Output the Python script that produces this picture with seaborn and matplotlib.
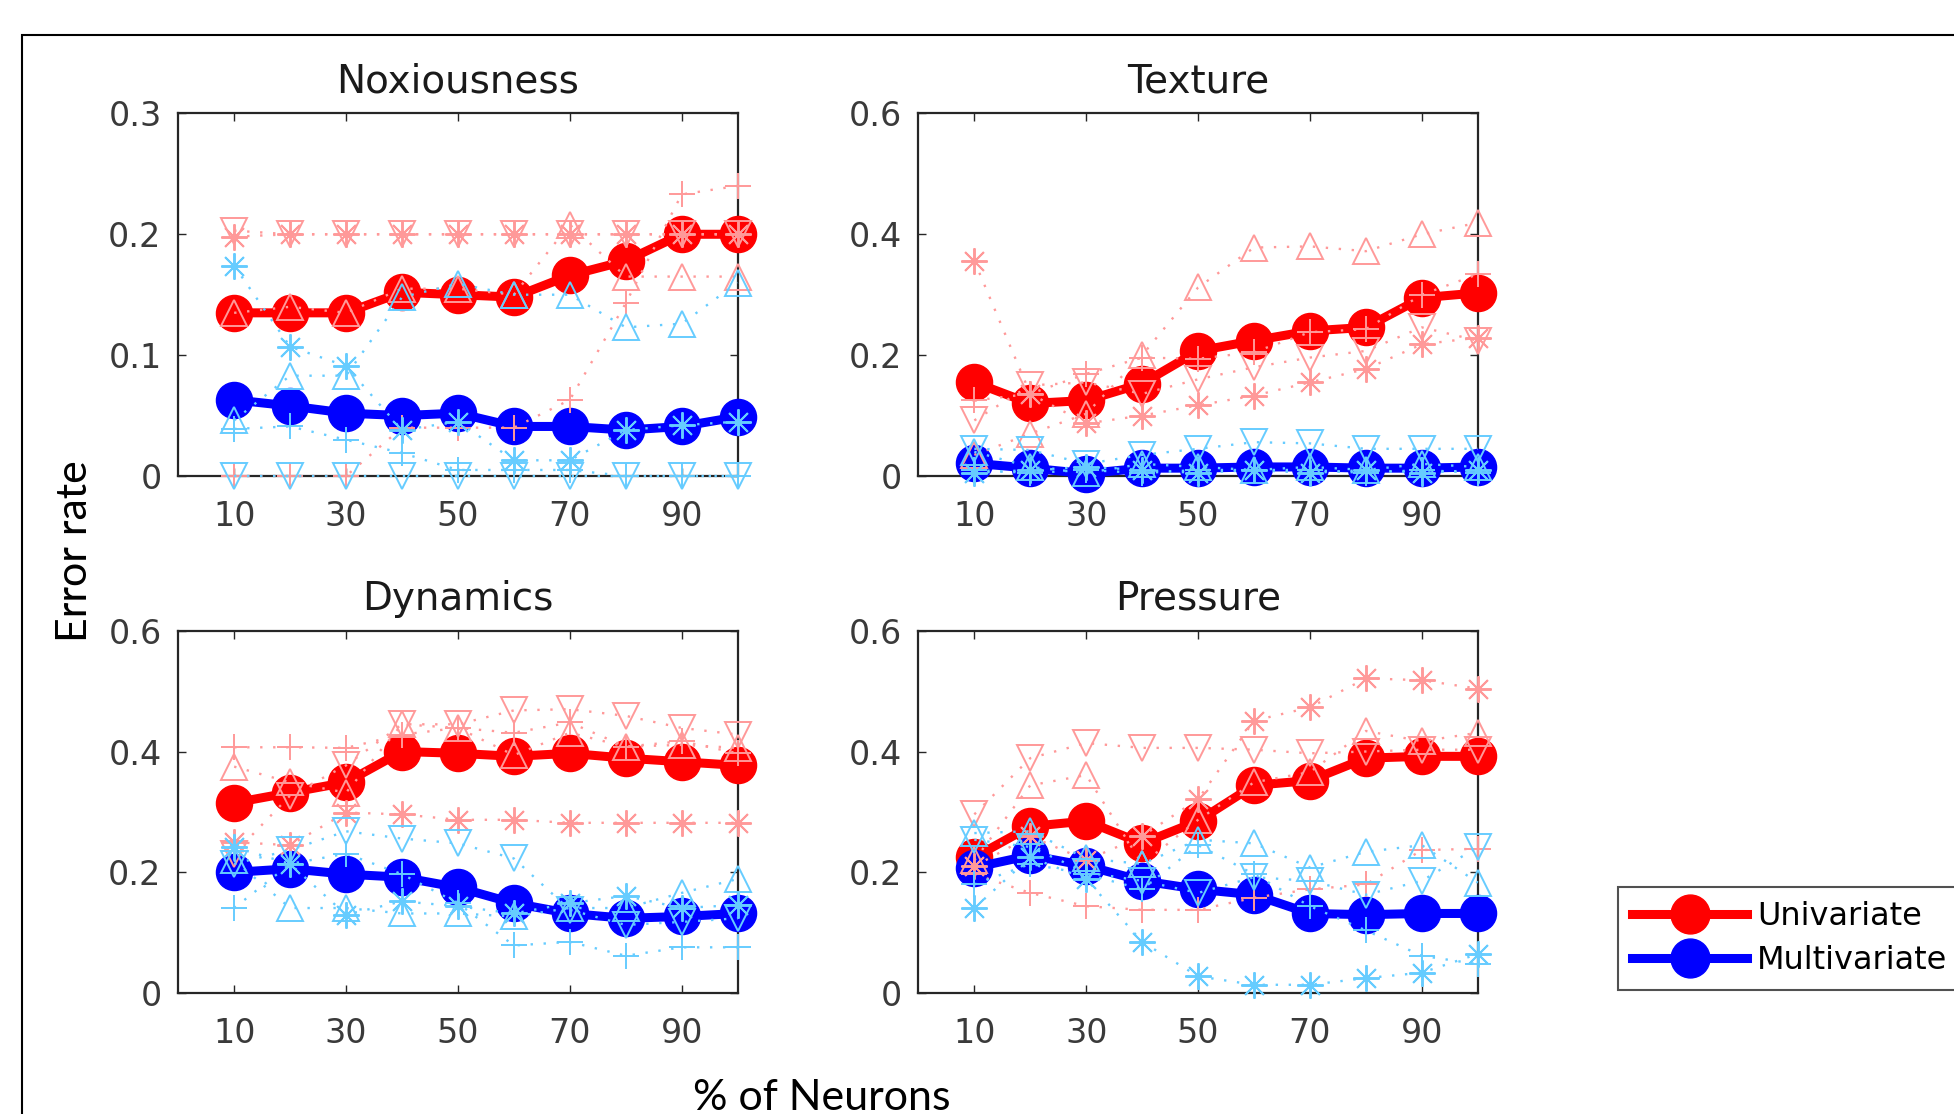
import matplotlib
matplotlib.use("Agg")
import matplotlib.pyplot as plt
from matplotlib.patches import Rectangle
import seaborn as sns

TICK_SIZE  = 24
TITLE_SIZE = 28
LABEL_SIZE = 31
LEGEND_SIZE = 23

RED, BLUE = "#ff0000", "#0000ff"
LIGHT_RED, LIGHT_BLUE = "#ff9999", "#66ccff"

pct = [10, 20, 30, 40, 50, 60, 70, 80, 90, 100]

# Noxiousness
nox_uni        = [0.135, 0.135, 0.135, 0.152, 0.150, 0.148, 0.166, 0.178, 0.200, 0.200]
nox_multi      = [0.063, 0.058, 0.052, 0.050, 0.052, 0.041, 0.041, 0.038, 0.041, 0.049]
nox_uni_plus   = [0.000, 0.000, 0.000, 0.040, 0.040, 0.040, 0.063, 0.143, 0.233, 0.240]
nox_uni_star   = [0.198, 0.200, 0.200, 0.200, 0.200, 0.200, 0.200, 0.200, 0.200, 0.200]
nox_uni_up     = [0.135, 0.140, 0.135, 0.155, 0.155, 0.150, 0.208, 0.165, 0.165, 0.165]
nox_uni_down   = [0.203, 0.200, 0.200, 0.200, 0.200, 0.200, 0.200, 0.200, 0.200, 0.200]
nox_multi_plus = [0.039, 0.041, 0.030, 0.019, 0.005, 0.005, 0.005, 0.000, 0.000, 0.000]
nox_multi_star = [0.174, 0.107, 0.091, 0.038, 0.045, 0.013, 0.013, 0.038, 0.042, 0.045]
nox_multi_up   = [0.046, 0.083, 0.083, 0.148, 0.159, 0.150, 0.150, 0.123, 0.126, 0.160]
nox_multi_down = [0.000, 0.000, 0.000, 0.000, 0.000, 0.000, 0.000, 0.000, 0.000, 0.000]

# Texture
tex_uni        = [0.155, 0.120, 0.125, 0.153, 0.207, 0.224, 0.240, 0.246, 0.295, 0.303]
tex_multi      = [0.021, 0.013, 0.004, 0.013, 0.013, 0.015, 0.015, 0.013, 0.013, 0.015]
tex_uni_plus   = [0.125, 0.136, 0.169, 0.196, 0.194, 0.205, 0.238, 0.243, 0.300, 0.334]
tex_uni_star   = [0.356, 0.136, 0.087, 0.100, 0.117, 0.133, 0.155, 0.177, 0.218, 0.229]
tex_uni_up     = [0.035, 0.070, 0.103, 0.200, 0.312, 0.378, 0.380, 0.372, 0.400, 0.419]
tex_uni_down   = [0.092, 0.150, 0.155, 0.136, 0.160, 0.180, 0.196, 0.207, 0.246, 0.224]
tex_multi_plus = [0.010, 0.005, 0.010, 0.005, 0.010, 0.010, 0.010, 0.005, 0.010, 0.005]
tex_multi_star = [0.005, 0.010, 0.015, 0.010, 0.005, 0.010, 0.005, 0.010, 0.005, 0.010]
tex_multi_up   = [0.040, 0.015, 0.005, 0.020, 0.015, 0.010, 0.015, 0.010, 0.020, 0.015]
tex_multi_down = [0.045, 0.043, 0.020, 0.035, 0.045, 0.056, 0.054, 0.045, 0.045, 0.045]

# Dynamics
dyn_uni        = [0.315, 0.332, 0.349, 0.400, 0.397, 0.392, 0.397, 0.389, 0.383, 0.377]
dyn_multi      = [0.200, 0.206, 0.197, 0.192, 0.175, 0.149, 0.132, 0.124, 0.127, 0.132]
dyn_uni_plus   = [0.407, 0.407, 0.406, 0.428, 0.439, 0.431, 0.448, 0.408, 0.417, 0.397]
dyn_uni_star   = [0.250, 0.245, 0.299, 0.296, 0.287, 0.287, 0.282, 0.282, 0.282, 0.282]
dyn_uni_up     = [0.375, 0.349, 0.332, 0.445, 0.439, 0.394, 0.431, 0.408, 0.411, 0.406]
dyn_uni_down   = [0.231, 0.327, 0.377, 0.445, 0.445, 0.468, 0.470, 0.459, 0.439, 0.428]
dyn_multi_plus = [0.141, 0.214, 0.231, 0.197, 0.149, 0.079, 0.085, 0.062, 0.076, 0.076]
dyn_multi_star = [0.242, 0.214, 0.130, 0.152, 0.144, 0.132, 0.149, 0.161, 0.141, 0.146]
dyn_multi_up   = [0.220, 0.141, 0.141, 0.132, 0.132, 0.127, 0.141, 0.141, 0.166, 0.189]
dyn_multi_down = [0.214, 0.237, 0.268, 0.256, 0.248, 0.223, 0.138, 0.113, 0.118, 0.124]

# Pressure
pre_uni        = [0.225, 0.276, 0.285, 0.248, 0.285, 0.344, 0.352, 0.389, 0.392, 0.392]
pre_multi      = [0.208, 0.228, 0.211, 0.186, 0.172, 0.163, 0.132, 0.130, 0.132, 0.132]
pre_uni_plus   = [0.197, 0.166, 0.144, 0.138, 0.138, 0.158, 0.172, 0.180, 0.237, 0.239]
pre_uni_star   = [0.210, 0.260, 0.220, 0.260, 0.321, 0.451, 0.473, 0.521, 0.518, 0.504]
pre_uni_up     = [0.220, 0.344, 0.361, 0.214, 0.287, 0.349, 0.366, 0.434, 0.417, 0.431]
pre_uni_down   = [0.296, 0.389, 0.414, 0.406, 0.406, 0.403, 0.397, 0.400, 0.403, 0.403]
pre_multi_plus = [0.180, 0.214, 0.197, 0.172, 0.245, 0.197, 0.144, 0.104, 0.062, 0.048]
pre_multi_star = [0.141, 0.225, 0.189, 0.085, 0.028, 0.014, 0.014, 0.025, 0.034, 0.065]
pre_multi_up   = [0.265, 0.268, 0.223, 0.214, 0.254, 0.248, 0.208, 0.234, 0.245, 0.183]
pre_multi_down = [0.254, 0.242, 0.200, 0.186, 0.166, 0.192, 0.186, 0.163, 0.186, 0.242]

panels = [
    ("Noxiousness", 0.3, [0, 0.1, 0.2, 0.3], ["0", "0.1", "0.2", "0.3"],
     nox_uni, nox_multi,
     [nox_uni_plus, nox_uni_star, nox_uni_up, nox_uni_down],
     [nox_multi_plus, nox_multi_star, nox_multi_up, nox_multi_down]),
    ("Texture", 0.6, [0, 0.2, 0.4, 0.6], ["0", "0.2", "0.4", "0.6"],
     tex_uni, tex_multi,
     [tex_uni_plus, tex_uni_star, tex_uni_up, tex_uni_down],
     [tex_multi_plus, tex_multi_star, tex_multi_up, tex_multi_down]),
    ("Dynamics", 0.6, [0, 0.2, 0.4, 0.6], ["0", "0.2", "0.4", "0.6"],
     dyn_uni, dyn_multi,
     [dyn_uni_plus, dyn_uni_star, dyn_uni_up, dyn_uni_down],
     [dyn_multi_plus, dyn_multi_star, dyn_multi_up, dyn_multi_down]),
    ("Pressure", 0.6, [0, 0.2, 0.4, 0.6], ["0", "0.2", "0.4", "0.6"],
     pre_uni, pre_multi,
     [pre_uni_plus, pre_uni_star, pre_uni_up, pre_uni_down],
     [pre_multi_plus, pre_multi_star, pre_multi_up, pre_multi_down]),
]

# matlab style markers: + , asterisk, up triangle, down triangle
small_markers = ["+", (8, 2, 0), "^", "v"]

positions = [
    [0.0912, 0.5727, 0.2863, 0.3255],
    [0.4700, 0.5727, 0.2863, 0.3255],
    [0.0912, 0.1084, 0.2863, 0.3255],
    [0.4700, 0.1084, 0.2863, 0.3255],
]

plt.rcParams["font.family"] = ["DejaVu Sans"]
fig = plt.figure(figsize=(19.54, 11.14), dpi=100)

handles = []
for pos, (title, ymax, yticks, ylabels, uni, multi, uni_subj, multi_subj) in zip(positions, panels):
    ax = fig.add_axes(pos)

    for y, col in [(uni, RED), (multi, BLUE)]:
        sns.lineplot(x=pct, y=y, ax=ax, color=col, linewidth=6.5, marker="o",
                     markersize=26, markeredgecolor=col, markerfacecolor=col,
                     markeredgewidth=1, zorder=2, clip_on=False)
        if len(handles) < 2:
            handles.append(ax.lines[-1])

    # individual subjects, sparse dotted lines with open markers
    for subj, col in [(uni_subj, LIGHT_RED), (multi_subj, LIGHT_BLUE)]:
        for y, m in zip(subj, small_markers):
            sns.lineplot(x=pct, y=y, ax=ax, color=col, linewidth=1.7,
                         linestyle=(0, (1, 4.5)),
                         marker=m, markersize=19, markeredgecolor=col,
                         markerfacecolor="none", markeredgewidth=1.4, zorder=3,
                         clip_on=False)

    ax.set_xlim(0, 100)
    ax.set_ylim(0, ymax)
    ax.set_xticks([10, 30, 50, 70, 90])
    ax.set_yticks(yticks)
    ax.set_yticklabels(ylabels)
    ax.set_xlabel("")
    ax.set_ylabel("")
    ax.set_title(title, fontsize=TITLE_SIZE, color="#1a1a1a", pad=15)
    ax.tick_params(axis="both", direction="in", top=True, right=True, length=6,
                   width=1, colors="#262626", labelsize=TICK_SIZE, labelcolor="#3a3a3a")
    ax.tick_params(axis="x", pad=17)
    ax.tick_params(axis="y", pad=12)
    for sp in ax.spines.values():
        sp.set_color("#262626")
        sp.set_linewidth(1.6)
        sp.set_zorder(1)

fig.text(0.0384, 0.5054, "Error rate", rotation=90, ha="center", va="center",
         fontsize=LABEL_SIZE, family=["Lato", "DejaVu Sans"])
fig.text(0.4207, 0.004, "% of Neurons", ha="center", va="baseline",
         fontsize=LABEL_SIZE, family=["Lato", "DejaVu Sans"])

leg = fig.legend(handles, ["Univariate", "Multivariate"], loc="upper left",
                 bbox_to_anchor=(0.828, 0.204), fontsize=LEGEND_SIZE,
                 frameon=True, fancybox=False, handlelength=3.6, handletextpad=0.3,
                 borderpad=0.45, labelspacing=0.4, borderaxespad=0)
leg.get_frame().set_edgecolor("#262626")
leg.get_frame().set_linewidth(1.5)
for h in leg.legend_handles:
    h.set_markersize(28)

fig.patches.append(Rectangle((0.0113, -0.05), 1.1, 0.9686 + 0.05, transform=fig.transFigure,
                             fill=False, edgecolor="black", linewidth=1.5))

fig.savefig("out.png", dpi=100)
